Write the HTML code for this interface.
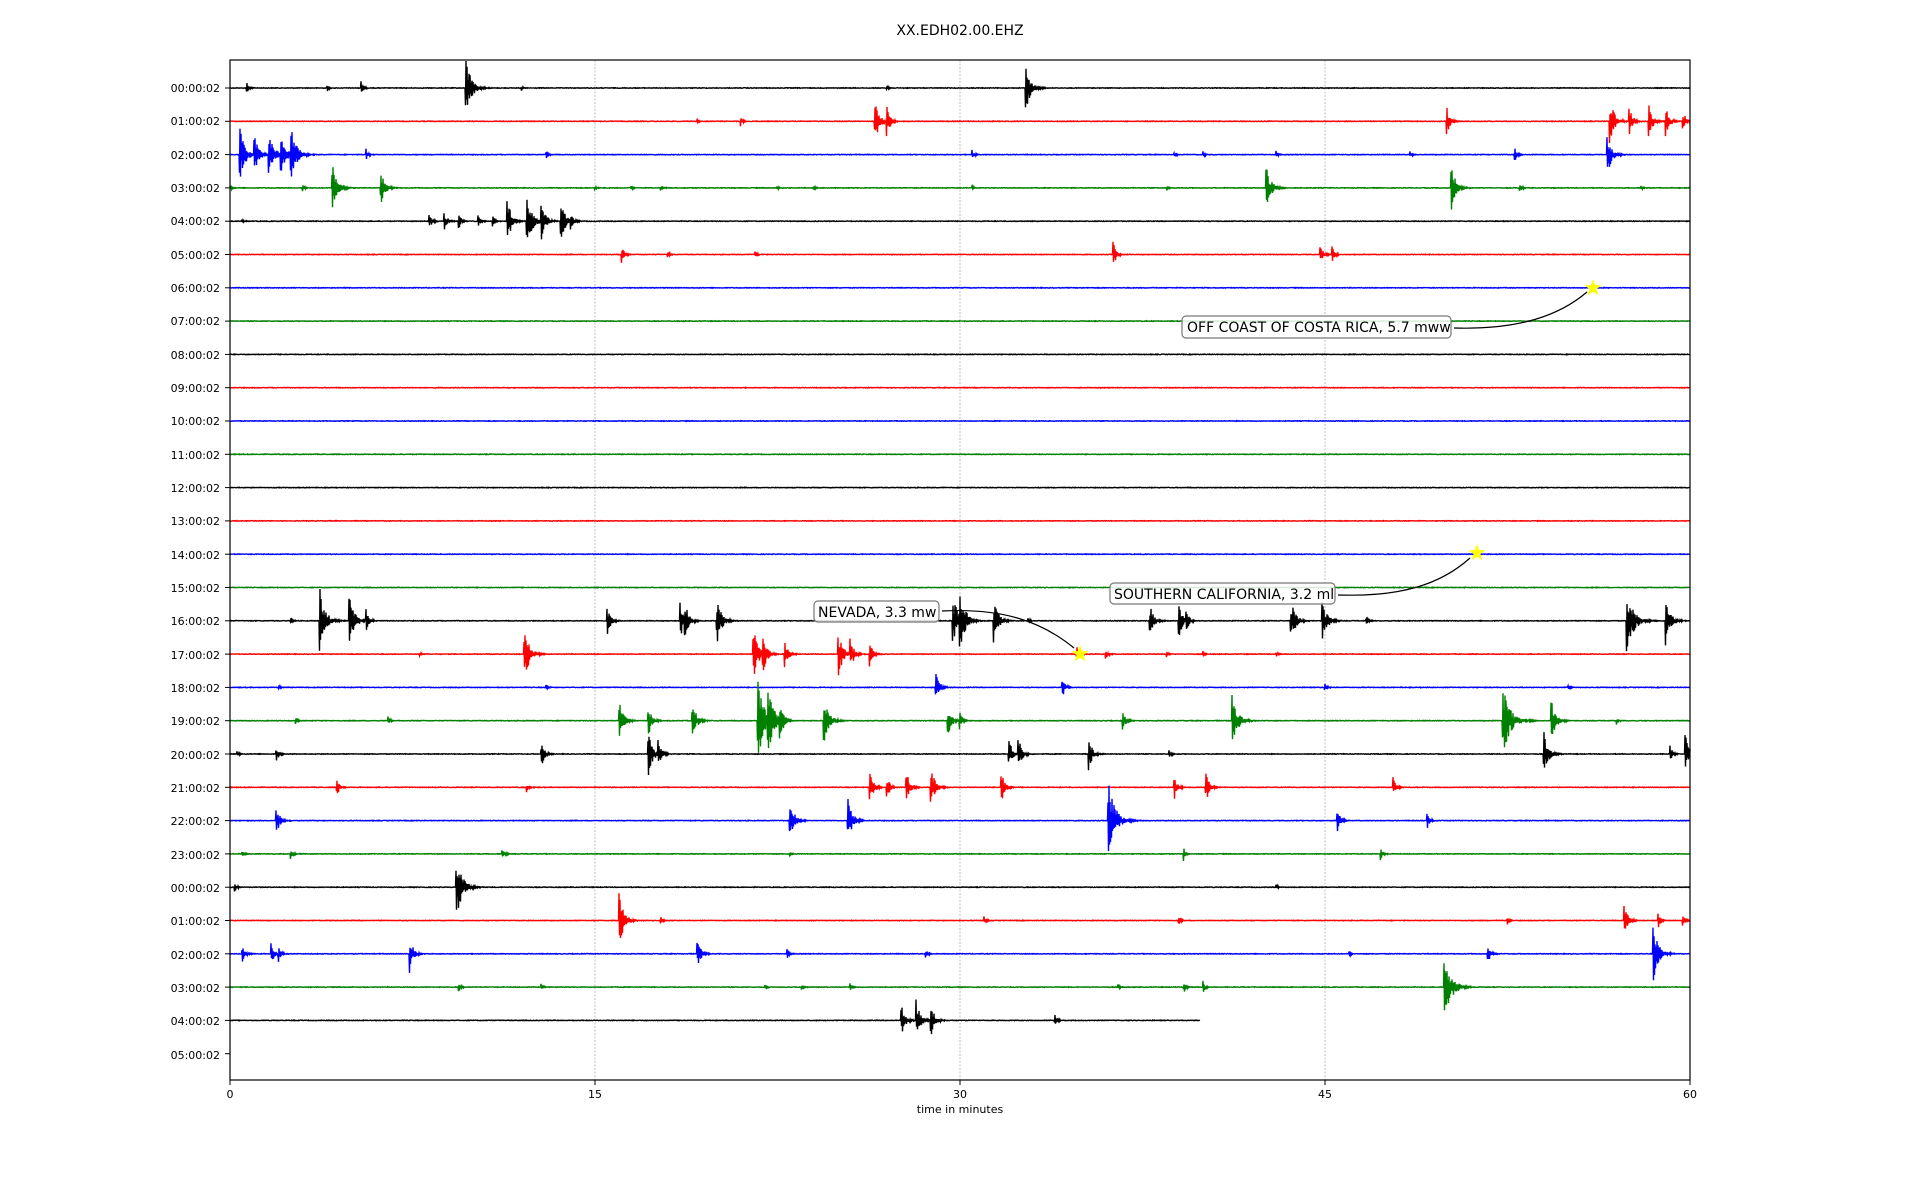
<!DOCTYPE html>
<html><head><meta charset="utf-8"><style>
body{margin:0;background:#fff;width:1920px;height:1200px;overflow:hidden}
svg{display:block}
text{font-family:"DejaVu Sans","Liberation Sans",sans-serif}
</style></head><body>
<svg id="s" width="1920" height="1200" xmlns="http://www.w3.org/2000/svg">
<rect width="1920" height="1200" fill="#fff"/>
<text x="960" y="35" font-size="14" text-anchor="middle">XX.EDH02.00.EHZ</text>
<g stroke="#b0b0b0" stroke-width="0.8" stroke-dasharray="2,1.5">
<line x1="595" y1="60" x2="595" y2="1080"/><line x1="960" y1="60" x2="960" y2="1080"/><line x1="1325" y1="60" x2="1325" y2="1080"/>
</g>
<g id="tr" fill="none" stroke-width="1.4" stroke-linejoin="miter"></g>
<rect x="230" y="60" width="1460" height="1020" fill="none" stroke="#000" stroke-width="1.2"/>
<g font-size="11" text-anchor="end" id="yl">
<text x="220" y="92">00:00:02</text><text x="220" y="125">01:00:02</text><text x="220" y="159">02:00:02</text><text x="220" y="192">03:00:02</text><text x="220" y="225">04:00:02</text><text x="220" y="259">05:00:02</text><text x="220" y="292">06:00:02</text><text x="220" y="325">07:00:02</text><text x="220" y="359">08:00:02</text><text x="220" y="392">09:00:02</text><text x="220" y="425">10:00:02</text><text x="220" y="459">11:00:02</text><text x="220" y="492">12:00:02</text><text x="220" y="525">13:00:02</text><text x="220" y="559">14:00:02</text><text x="220" y="592">15:00:02</text><text x="220" y="625">16:00:02</text><text x="220" y="659">17:00:02</text><text x="220" y="692">18:00:02</text><text x="220" y="725">19:00:02</text><text x="220" y="759">20:00:02</text><text x="220" y="792">21:00:02</text><text x="220" y="825">22:00:02</text><text x="220" y="859">23:00:02</text><text x="220" y="892">00:00:02</text><text x="220" y="925">01:00:02</text><text x="220" y="959">02:00:02</text><text x="220" y="992">03:00:02</text><text x="220" y="1025">04:00:02</text><text x="220" y="1059">05:00:02</text>
</g>
<g id="yt" stroke="#000" stroke-width="1"></g>
<g stroke="#000" stroke-width="1">
<line x1="230" y1="1080" x2="230" y2="1085"/><line x1="595" y1="1080" x2="595" y2="1085"/><line x1="960" y1="1080" x2="960" y2="1085"/><line x1="1325" y1="1080" x2="1325" y2="1085"/><line x1="1690" y1="1080" x2="1690" y2="1085"/>
</g>
<g font-size="11" text-anchor="middle">
<text x="230" y="1098">0</text><text x="595" y="1098">15</text><text x="960" y="1098">30</text><text x="1325" y="1098">45</text><text x="1690" y="1098">60</text>
<text x="960" y="1113">time in minutes</text>
</g>
<g fill="none" stroke="#000" stroke-width="1.2">
<path d="M1454,328 C1520,330 1560,315 1587,292"/>
<path d="M1338,595 C1400,597 1440,585 1470,558"/>
<path d="M942,611 C1000,608 1040,620 1074,648"/>
</g>
<g fill="#fff" fill-opacity="0.85" stroke="#777" stroke-width="1.2">
<rect x="1182" y="316" width="269" height="22" rx="4"/>
<rect x="1110" y="583" width="225" height="21" rx="4"/>
<rect x="814" y="601" width="125" height="21" rx="4"/>
</g>
<g font-size="14">
<text x="1187" y="332">OFF COAST OF COSTA RICA, 5.7 mww</text>
<text x="1114" y="599">SOUTHERN CALIFORNIA, 3.2 ml</text>
<text x="818" y="617">NEVADA, 3.3 mw</text>
</g>
<g fill="#ffff00" id="st"></g>
</svg>
<script>
var NS="http://www.w3.org/2000/svg";
var seed=12345;function r(){seed=(seed*1103515245+12345)%2147483648;return seed/2147483648;}
var cols=["#000","#f00","#00f","#008000"];
var ev={
0:[[0.7,5],[5.4,6],[9.7,30],[32.7,25],[4,3],[12,2],[27,2]],
1:[[19.2,2],[21,4],[26.5,22],[27,14],[50,15],[56.7,24],[57.5,15],[58.3,18],[59,15],[59.7,12]],
2:[[0.4,28],[1.0,20],[1.6,25],[2.1,22],[2.5,30],[5.6,6],[13,5],[30.5,5],[38.8,4],[40,3],[43,3],[48.5,4],[52.8,7],[56.6,22]],
3:[[0,3],[3,3],[4.2,25],[6.2,18],[15,2],[16.5,2],[17.7,3],[22.5,2],[24,2],[30.5,2],[38.5,2],[42.6,22],[50.2,22],[53,5],[58,2]],
4:[[0.5,2],[8.2,8],[8.8,10],[9.4,9],[10.2,6],[10.8,5],[11.4,22],[12.2,28],[12.8,20],[13.6,22],[14,8]],
5:[[16.1,10],[18,3],[21.6,4],[36.3,12],[44.8,12],[45.3,8]],
6:[],7:[],8:[],9:[],10:[],11:[],12:[],13:[],14:[],15:[],
16:[[2.5,3],[3.7,32],[4.9,28],[5.6,10],[15.5,15],[18.5,20],[18.7,15],[20,25],[29.7,28],[30,28],[31.4,22],[32.8,3],[37.8,17],[39,17],[39.3,10],[43.6,22],[44.9,22],[46.7,5],[57.4,38],[59,24]],
17:[[7.8,3],[12.1,27],[21.5,28],[21.9,18],[22.8,15],[25,24],[25.5,15],[26.3,12],[34.8,8],[36,5],[38.5,3],[40,3],[43,3]],
18:[[2,3],[13,3],[29,16],[34.2,11],[45,4],[55,3]],
19:[[2.7,4],[6.5,5],[16,20],[17.2,15],[19,20],[21.7,40],[22.1,32],[22.6,15],[24.4,26],[29.5,16],[30,8],[36.7,10],[41.2,27],[52.3,42],[54.3,22],[57,3]],
20:[[0.3,3],[1.9,8],[12.8,13],[17.2,22],[17.6,14],[32,16],[32.4,16],[35.3,16],[38.6,4],[54,22],[59.2,8],[59.8,22]],
21:[[4.4,8],[12.2,5],[26.3,16],[27,12],[27.8,16],[28.8,22],[31.7,16],[38.8,13],[40.1,16],[47.8,10]],
22:[[1.9,16],[23,22],[25.4,22],[36.1,40],[45.5,12],[49.2,8]],
23:[[0.5,3],[2.5,5],[11.2,6],[23,3],[39.2,6],[47.3,6]],
24:[[0.2,5],[9.3,32],[43,2]],
25:[[16,26],[17.7,5],[31,4],[39,4],[52.5,4],[57.3,16],[58.7,8],[59.7,5]],
26:[[0.5,10],[1.7,11],[2,8],[7.4,16],[19.2,16],[22.9,5],[28.6,5],[46,3],[51.7,10],[58.5,27]],
27:[[9.4,6],[12.8,3],[22,3],[23.5,3],[25.5,3],[36.5,3],[39.2,6],[40,6],[49.9,38]],
28:[[27.6,17],[28.2,20],[28.8,17],[33.9,6]]};
var g=document.getElementById("tr"),yt=document.getElementById("yt");
for(var i=0;i<30;i++){var y0=88+i*33.3;
 var t=document.createElementNS(NS,"line");t.setAttribute("x1",225);t.setAttribute("x2",230);t.setAttribute("y1",y0);t.setAttribute("y2",y0);yt.appendChild(t);
 if(i==29)continue;
 var end=(i==28)?1200:1690,e=ev[i],pts=[],sg=1;
 for(var x=230;x<=end;x+=0.5){sg=-sg;var d=(r()-0.5)*0.6;
  for(var k=0;k<e.length;k++){var ex=230+e[k][0]*24.333,dx=x-ex;
   if(dx>-0.6&&dx<e[k][1]*0.7+5){var env=e[k][1]*Math.exp(-dx/(e[k][1]*0.12+1.5));d+=sg*(0.3+0.7*r())*env;}}
  d=Math.max(-45,Math.min(45,d));pts.push(x+","+(y0+d).toFixed(1));}
 var p=document.createElementNS(NS,"polyline");p.setAttribute("points",pts.join(" "));p.setAttribute("stroke",cols[i%4]);g.appendChild(p);}
function star(cx,cy,R){var s="";for(var j=0;j<10;j++){var a=-Math.PI/2+j*Math.PI/5,rr=j%2?R*0.4:R;s+=(cx+rr*Math.cos(a)).toFixed(1)+","+(cy+rr*Math.sin(a)).toFixed(1)+" ";}
 var p=document.createElementNS(NS,"polygon");p.setAttribute("points",s);document.getElementById("st").appendChild(p);}
star(1593,288,9);star(1477,553,9);star(1080,654,9);
</script>
</body></html>
